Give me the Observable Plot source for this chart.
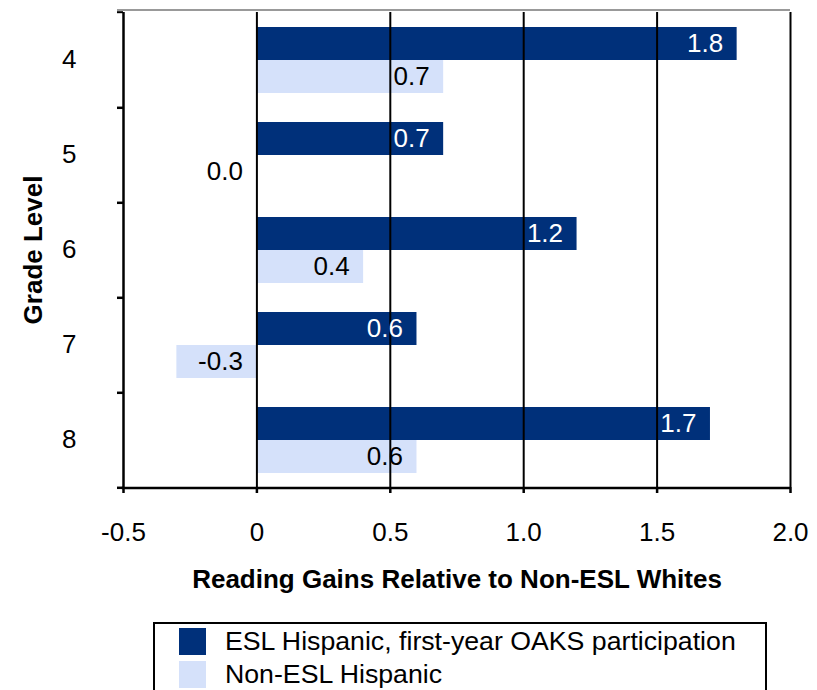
<!DOCTYPE html>
<html>
<head>
<meta charset="utf-8">
<script src="https://cdn.jsdelivr.net/npm/d3@7"></script>
<script src="https://cdn.jsdelivr.net/npm/@observablehq/plot@0.6"></script>
<style>
  body { margin: 0; background: #fff; font-family: "Liberation Sans", Arial, Helvetica, sans-serif; }
  #wrap { position: relative; width: 817px; height: 690px; overflow: hidden; }
  #legend { position: absolute; left: 153px; top: 622px; width: 614px; height: 100px;
            border: 2px solid #000; box-sizing: border-box; background: #fff; }
  .item { position: absolute; left: 24px; height: 27px; display: flex; align-items: center; }
  .sw { width: 27px; height: 27px; margin-right: 19px; flex: none; }
  .lab { font-size: 26.7px; color: #000; white-space: nowrap; line-height: 27px; }
</style>
</head>
<body>
<div id="wrap">
  <div id="chart"></div>
  <div id="legend"></div>
</div>
<script>
const grades = ["4", "5", "6", "7", "8"];
const seriesNames = ["ESL Hispanic, first-year OAKS participation", "Non-ESL Hispanic"];
const eslHispanic = [1.8, 0.7, 1.2, 0.6, 1.7];
const nonEslHispanic = [0.7, 0.0, 0.4, -0.3, 0.6];
const xTicks = [-0.5, 0, 0.5, 1.0, 1.5, 2.0];
const xTickLabels = ["-0.5", "0", "0.5", "1.0", "1.5", "2.0"];
const seriesColors = ["#00307a", "#d5e1fa"];
const labelColors = ["#ffffff", "#000000"];
const xTitle = "Reading Gains Relative to Non-ESL Whites";
const yTitle = "Grade Level";

const rows = grades.flatMap((g, i) => [
  {grade: g, series: seriesNames[0], value: eslHispanic[i], s: 0},
  {grade: g, series: seriesNames[1], value: nonEslHispanic[i], s: 1}
]);

const H = 610, mT = 10, mB = 122;
const band = (H - mT - mB) / grades.length;
const font = "'Liberation Sans', Arial, Helvetica, sans-serif";

const chart = Plot.plot({
  width: 817,
  height: H,
  marginTop: mT,
  marginBottom: mB,
  marginLeft: 123,
  marginRight: 27,
  style: {fontFamily: font, fontSize: "26px", color: "#000", background: "#fff"},
  x: {domain: [-0.5, 2], axis: null},
  y: {domain: seriesNames, axis: null, paddingInner: 0, paddingOuter: 0.41},
  fy: {domain: grades, axis: null, padding: 0},
  color: {domain: seriesNames, range: seriesColors},
  marks: [
    Plot.barX(rows, {fy: "grade", y: "series", x: "value", fill: "series"}),
    Plot.ruleX(xTicks.slice(1), {stroke: "#000", strokeWidth: 2}),
    Plot.ruleX([xTicks[0]], {stroke: "#000", strokeWidth: 2.5}),
    Plot.text(rows, {
      fy: "grade", y: "series",
      x: d => Math.max(0, d.value),
      text: d => d.value.toFixed(1),
      textAnchor: "end", dx: -14, fontSize: 26,
      fill: d => labelColors[d.s]
    }),
    // bottom axis
    Plot.axisX({
      anchor: "bottom", ticks: xTicks, tickFormat: (d) => xTickLabels[xTicks.indexOf(d)],
      tickSize: 6, tickPadding: 29, strokeWidth: 2.5, fontSize: 26, label: null
    }),
    Plot.axisX({
      anchor: "bottom", ticks: [], label: xTitle, labelAnchor: "center", labelArrow: "none",
      labelOffset: 100, fontWeight: "bold", fontSize: 26
    }),
    // category boundary ticks on the left axis
    Plot.axisFy({anchor: "left", tickSize: 6, tickFormat: () => "", dy: band / 2, strokeWidth: 2.5, label: null}),
    Plot.axisFy({anchor: "left", ticks: [grades[0]], tickSize: 6, tickFormat: () => "", dy: -band / 2, strokeWidth: 2, label: null}),
    // grade labels
    Plot.axisFy({anchor: "left", tickSize: 0, tickPadding: 47, fontSize: 26, label: null}),
    Plot.axisFy({
      anchor: "left", ticks: [], label: yTitle, labelAnchor: "center", labelArrow: "none",
      labelOffset: 100, fontWeight: "bold", fontSize: 26
    })
  ]
});
document.getElementById("chart").appendChild(chart);

// plot-area border lines (top border, bottom axis line), placed via the x scale
const xs = chart.scale("x");
const svg = d3.select(chart);
svg.append("line")
  .attr("x1", xs.apply(xTicks[0]) - 6).attr("x2", xs.apply(xTicks[xTicks.length - 1]))
  .attr("y1", mT).attr("y2", mT)
  .attr("stroke", "#777").attr("stroke-width", 1.5);
svg.append("line")
  .attr("x1", xs.apply(xTicks[0]) - 1.25).attr("x2", xs.apply(xTicks[xTicks.length - 1]) + 1)
  .attr("y1", H - mB).attr("y2", H - mB)
  .attr("stroke", "#000").attr("stroke-width", 2.5);

const legend = document.getElementById("legend");
seriesNames.forEach((name, i) => {
  const item = document.createElement("div");
  item.className = "item";
  item.style.top = (4 + i * 33) + "px";
  const sw = document.createElement("div");
  sw.className = "sw";
  sw.style.background = seriesColors[i];
  const lab = document.createElement("div");
  lab.className = "lab";
  lab.textContent = name;
  item.appendChild(sw);
  item.appendChild(lab);
  legend.appendChild(item);
});
</script>
</body>
</html>
